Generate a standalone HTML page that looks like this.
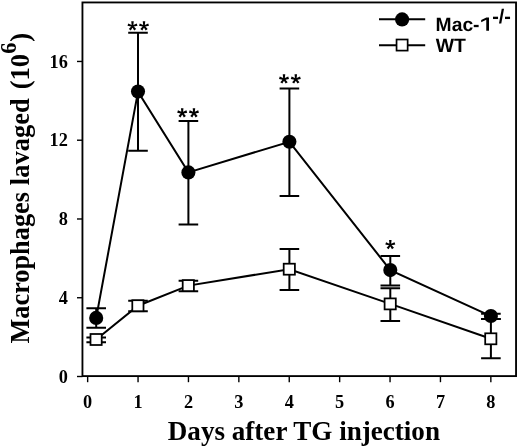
<!DOCTYPE html>
<html><head><meta charset="utf-8"><title>chart</title>
<style>html,body{margin:0;padding:0;background:#fff;}svg{display:block;will-change:transform;filter:grayscale(1);}text{font-family:"Liberation Serif",serif;font-weight:bold;fill:#000;}.s{font-family:"Liberation Sans",sans-serif;font-weight:bold;text-rendering:geometricPrecision;}</style></head><body>
<svg width="520" height="447" viewBox="0 0 520 447">
<rect x="0" y="0" width="520" height="447" fill="#fff"/>
<g stroke="#000" stroke-width="2" fill="none" stroke-linecap="butt">
<rect x="82.45" y="2.45" width="433.60" height="373.65" stroke-width="1.85"/>
<line x1="77" y1="376.50" x2="82.45" y2="376.50" stroke-width="1.4"/>
<line x1="77" y1="297.74" x2="82.45" y2="297.74" stroke-width="1.4"/>
<line x1="77" y1="218.98" x2="82.45" y2="218.98" stroke-width="1.4"/>
<line x1="77" y1="140.22" x2="82.45" y2="140.22" stroke-width="1.4"/>
<line x1="77" y1="61.46" x2="82.45" y2="61.46" stroke-width="1.4"/>
<line x1="87.65" y1="376.1" x2="87.65" y2="382.2" stroke-width="1.4"/>
<line x1="138.05" y1="376.1" x2="138.05" y2="382.2" stroke-width="1.4"/>
<line x1="188.45" y1="376.1" x2="188.45" y2="382.2" stroke-width="1.4"/>
<line x1="238.85" y1="376.1" x2="238.85" y2="382.2" stroke-width="1.4"/>
<line x1="289.25" y1="376.1" x2="289.25" y2="382.2" stroke-width="1.4"/>
<line x1="339.65" y1="376.1" x2="339.65" y2="382.2" stroke-width="1.4"/>
<line x1="390.05" y1="376.1" x2="390.05" y2="382.2" stroke-width="1.4"/>
<line x1="440.45" y1="376.1" x2="440.45" y2="382.2" stroke-width="1.4"/>
<line x1="490.85" y1="376.1" x2="490.85" y2="382.2" stroke-width="1.4"/>
<path d="M86.4 308.2H106.0M86.4 327.8H106.0M96.2 308.2V327.8"/>
<path d="M128.2 32.7H147.8M128.2 150.7H147.8M138.0 32.7V150.7"/>
<path d="M178.6 121.0H198.20000000000002M178.6 224.4H198.20000000000002M188.4 121.0V224.4"/>
<path d="M279.59999999999997 88.6H299.2M279.59999999999997 196.0H299.2M289.4 88.6V196.0"/>
<path d="M380.5 255.9H400.1M380.5 285.4H400.1M390.3 255.9V285.4"/>
<path d="M481.09999999999997 313.7H500.7M481.09999999999997 319.1H500.7M490.9 313.7V319.1"/>
<path d="M86.4 337.5H106.0M86.4 342.2H106.0M96.2 337.5V342.2"/>
<path d="M128.2 300.7H147.8M128.2 311.2H147.8M138.0 300.7V311.2"/>
<path d="M178.6 280.8H198.20000000000002M178.6 291.2H198.20000000000002M188.4 280.8V291.2"/>
<path d="M279.59999999999997 249.0H299.2M279.59999999999997 289.9H299.2M289.4 249.0V289.9"/>
<path d="M380.5 288.2H400.1M380.5 320.9H400.1M390.3 288.2V320.9"/>
<path d="M481.09999999999997 319.1H500.7M481.09999999999997 358.3H500.7M490.9 319.1V358.3"/>
<polyline points="96.2,317.9 138.0,91.6 188.4,172.4 289.4,141.8 390.3,270.1 490.9,316.05"/>
<polyline points="96.2,339.5 138.0,305.7 188.4,285.6 289.4,269.2 390.3,303.9 490.9,338.8"/>
<line x1="379" y1="19.3" x2="425.2" y2="19.3"/>
<line x1="379" y1="45.2" x2="425.2" y2="45.2"/>
</g>
<circle cx="96.2" cy="317.9" r="7.05" fill="#000"/>
<circle cx="138.0" cy="91.6" r="7.05" fill="#000"/>
<circle cx="188.4" cy="172.4" r="7.05" fill="#000"/>
<circle cx="289.4" cy="141.8" r="7.05" fill="#000"/>
<circle cx="390.3" cy="270.1" r="7.05" fill="#000"/>
<circle cx="490.9" cy="316.05" r="7.05" fill="#000"/>
<rect x="90.50" y="334.00" width="11.2" height="11.0" fill="#fff" stroke="#000" stroke-width="1.75"/>
<rect x="132.30" y="300.20" width="11.2" height="11.0" fill="#fff" stroke="#000" stroke-width="1.75"/>
<rect x="182.70" y="280.10" width="11.2" height="11.0" fill="#fff" stroke="#000" stroke-width="1.75"/>
<rect x="283.70" y="263.70" width="11.2" height="11.0" fill="#fff" stroke="#000" stroke-width="1.75"/>
<rect x="384.60" y="298.40" width="11.2" height="11.0" fill="#fff" stroke="#000" stroke-width="1.75"/>
<rect x="485.20" y="333.30" width="11.2" height="11.0" fill="#fff" stroke="#000" stroke-width="1.75"/>
<circle cx="402.1" cy="19.4" r="7.1" fill="#000"/>
<rect x="396.55" y="39.5" width="11.1" height="11.1" fill="#fff" stroke="#000" stroke-width="1.7"/>
<text x="67.8" y="382.60" font-size="18.3" text-anchor="end">0</text>
<text x="67.8" y="303.84" font-size="18.3" text-anchor="end">4</text>
<text x="67.8" y="225.08" font-size="18.3" text-anchor="end">8</text>
<text x="67.8" y="146.32" font-size="18.3" text-anchor="end">12</text>
<text x="67.8" y="67.56" font-size="18.3" text-anchor="end">16</text>
<text x="87.65" y="407.5" font-size="18.3" text-anchor="middle">0</text>
<text x="138.05" y="407.5" font-size="18.3" text-anchor="middle">1</text>
<text x="188.45" y="407.5" font-size="18.3" text-anchor="middle">2</text>
<text x="238.85" y="407.5" font-size="18.3" text-anchor="middle">3</text>
<text x="289.25" y="407.5" font-size="18.3" text-anchor="middle">4</text>
<text x="339.65" y="407.5" font-size="18.3" text-anchor="middle">5</text>
<text x="390.05" y="407.5" font-size="18.3" text-anchor="middle">6</text>
<text x="440.45" y="407.5" font-size="18.3" text-anchor="middle">7</text>
<text x="490.85" y="407.5" font-size="18.3" text-anchor="middle">8</text>
<text x="167.8" y="440" font-size="27.1">Days after TG injection</text>
<g transform="translate(28.8,343.5) rotate(-90)">
<text x="0" y="0" font-size="26.3">Macrophages</text>
<text x="158.3" y="0" font-size="26.5">lavaged</text>
<text x="254.2" y="0" font-size="26.6">(10<tspan font-size="22.5" dy="-12.6" dx="0.2">6</tspan><tspan dy="12.6" dx="0.6">)</tspan></text>
</g>
<text class="s" x="435.6" y="30.8" font-size="19.3">Mac-</text>
<path transform="translate(478.87,30.8) scale(0.009424,-0.009424)" d="M785 0V1165L247 915V1150L800 1409H1075V0Z" fill="#000"/>
<text class="s" x="492.21" y="22.90" font-size="19.8">-/-</text>
<text class="s" x="435.8" y="51.8" font-size="19.4">WT</text>
<path d="M133.25 26.10L133.75 21.25L131.25 21.25L131.75 26.10ZM132.73 26.81L137.50 25.79L136.73 23.41L132.27 25.39ZM131.89 26.54L134.17 30.52L136.19 29.05L133.11 25.66ZM131.89 25.66L128.81 29.05L130.83 30.52L133.11 26.54ZM132.73 25.39L128.27 23.41L127.50 25.79L132.27 26.81Z" fill="#000"/>
<circle cx="132.5" cy="26.1" r="1.3" fill="#000"/>
<path d="M144.75 26.10L145.25 21.25L142.75 21.25L143.25 26.10ZM144.23 26.81L149.00 25.79L148.23 23.41L143.77 25.39ZM143.39 26.54L145.67 30.52L147.69 29.05L144.61 25.66ZM143.39 25.66L140.31 29.05L142.33 30.52L144.61 26.54ZM144.23 25.39L139.77 23.41L139.00 25.79L143.77 26.81Z" fill="#000"/>
<circle cx="144.0" cy="26.1" r="1.3" fill="#000"/>
<path d="M182.95 113.00L183.45 108.15L180.95 108.15L181.45 113.00ZM182.43 113.71L187.20 112.69L186.43 110.31L181.97 112.29ZM181.59 113.44L183.87 117.42L185.89 115.95L182.81 112.56ZM181.59 112.56L178.51 115.95L180.53 117.42L182.81 113.44ZM182.43 112.29L177.97 110.31L177.20 112.69L181.97 113.71Z" fill="#000"/>
<circle cx="182.2" cy="113.0" r="1.3" fill="#000"/>
<path d="M194.70 113.00L195.20 108.15L192.70 108.15L193.20 113.00ZM194.18 113.71L198.95 112.69L198.18 110.31L193.72 112.29ZM193.34 113.44L195.62 117.42L197.64 115.95L194.56 112.56ZM193.34 112.56L190.26 115.95L192.28 117.42L194.56 113.44ZM194.18 112.29L189.72 110.31L188.95 112.69L193.72 113.71Z" fill="#000"/>
<circle cx="193.95" cy="113.0" r="1.3" fill="#000"/>
<path d="M284.75 79.20L285.25 74.35L282.75 74.35L283.25 79.20ZM284.23 79.91L289.00 78.89L288.23 76.51L283.77 78.49ZM283.39 79.64L285.67 83.62L287.69 82.15L284.61 78.76ZM283.39 78.76L280.31 82.15L282.33 83.62L284.61 79.64ZM284.23 78.49L279.77 76.51L279.00 78.89L283.77 79.91Z" fill="#000"/>
<circle cx="284.0" cy="79.2" r="1.3" fill="#000"/>
<path d="M296.55 79.20L297.05 74.35L294.55 74.35L295.05 79.20ZM296.03 79.91L300.80 78.89L300.03 76.51L295.57 78.49ZM295.19 79.64L297.47 83.62L299.49 82.15L296.41 78.76ZM295.19 78.76L292.11 82.15L294.13 83.62L296.41 79.64ZM296.03 78.49L291.57 76.51L290.80 78.89L295.57 79.91Z" fill="#000"/>
<circle cx="295.8" cy="79.2" r="1.3" fill="#000"/>
<path d="M391.05 244.90L391.55 240.05L389.05 240.05L389.55 244.90ZM390.53 245.61L395.30 244.59L394.53 242.21L390.07 244.19ZM389.69 245.34L391.97 249.32L393.99 247.85L390.91 244.46ZM389.69 244.46L386.61 247.85L388.63 249.32L390.91 245.34ZM390.53 244.19L386.07 242.21L385.30 244.59L390.07 245.61Z" fill="#000"/>
<circle cx="390.3" cy="244.9" r="1.3" fill="#000"/>
</svg></body></html>
